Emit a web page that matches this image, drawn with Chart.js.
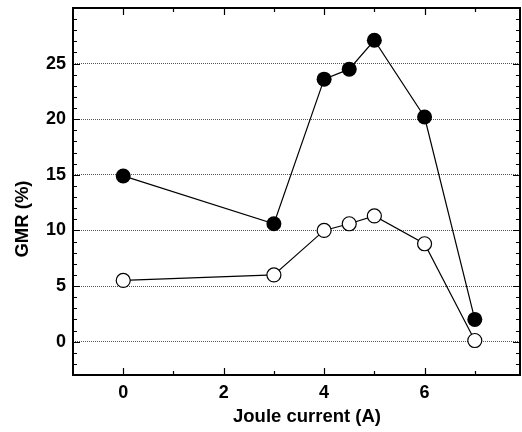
<!DOCTYPE html>
<html>
<head>
<meta charset="utf-8">
<script src="https://cdn.jsdelivr.net/npm/chart.js@4.4.0/dist/chart.umd.min.js"></script>
<style>
    html, body { margin: 0; padding: 0; background: #fff; }
    #wrap { width: 522px; height: 432px; }
</style>
</head>
<body>
<div id="wrap"><canvas id="gmrChart" width="522" height="432"></canvas></div>
<script>
// Joule current (A) for each measurement
const current = [0, 3, 4, 4.5, 5, 6, 7];
// GMR (%) filled symbols and open symbols
const gmrFilled = [14.9, 10.6, 23.6, 24.5, 27.1, 20.2, 2.0];
const gmrOpen = [5.5, 6.0, 10.0, 10.6, 11.3, 8.8, 0.1];

const xMajorTicks = [0, 2, 4, 6];
const xMinorTicks = [1, 3, 5, 7];
const yMajorTicks = [0, 5, 10, 15, 20, 25];
const yMinorTicks = [-2, -1, 1, 2, 3, 4, 6, 7, 8, 9, 11, 12, 13, 14, 16, 17, 18, 19, 21, 22, 23, 24, 26, 27, 28, 29];

const FONT = 'Liberation Sans, Arial, sans-serif';

function toPoints(xs, ys) {
    return xs.map((x, i) => ({ x: x, y: ys[i] }));
}

// frame, inward ticks on all four sides, axis titles
const framePlugin = {
    id: 'frame',
    afterDraw(chart) {
        const ctx = chart.ctx;
        const a = chart.chartArea;
        const xs = chart.scales.x;
        const ys = chart.scales.y;
        ctx.save();
        ctx.strokeStyle = '#000';

        ctx.lineWidth = 1.2;
        ctx.beginPath();
        xMajorTicks.forEach(v => {
            const px = Math.round(xs.getPixelForValue(v)) + 0.5;
            ctx.moveTo(px, a.bottom); ctx.lineTo(px, a.bottom - 7);
            ctx.moveTo(px, a.top); ctx.lineTo(px, a.top + 7);
        });
        xMinorTicks.forEach(v => {
            const px = Math.round(xs.getPixelForValue(v)) + 0.5;
            ctx.moveTo(px, a.bottom); ctx.lineTo(px, a.bottom - 4);
            ctx.moveTo(px, a.top); ctx.lineTo(px, a.top + 4);
        });
        yMajorTicks.forEach(v => {
            const py = Math.round(ys.getPixelForValue(v)) + 0.5;
            ctx.moveTo(a.left, py); ctx.lineTo(a.left + 7, py);
            ctx.moveTo(a.right, py); ctx.lineTo(a.right - 7, py);
        });
        yMinorTicks.forEach(v => {
            const py = Math.round(ys.getPixelForValue(v)) + 0.5;
            ctx.moveTo(a.left, py); ctx.lineTo(a.left + 4, py);
            ctx.moveTo(a.right, py); ctx.lineTo(a.right - 4, py);
        });
        ctx.stroke();

        ctx.lineWidth = 2;
        ctx.strokeRect(a.left, a.top, a.right - a.left, a.bottom - a.top);

        ctx.fillStyle = '#000';
        ctx.font = 'bold 18.5px ' + FONT;
        ctx.textAlign = 'center';
        ctx.textBaseline = 'middle';
        ctx.fillText('Joule current (A)', 307, 417);
        ctx.translate(23, 219);
        ctx.rotate(-Math.PI / 2);
        ctx.fillText('GMR (%)', 0, 0);
        ctx.restore();
    }
};

const ctx = document.getElementById('gmrChart').getContext('2d');
new Chart(ctx, {
    type: 'scatter',
    data: {
        datasets: [
            {
                label: 'filled',
                data: toPoints(current, gmrFilled),
                showLine: true,
                borderColor: '#000',
                borderWidth: 1.2,
                pointRadius: 7.5,
                pointBackgroundColor: '#000',
                pointBorderColor: '#000',
                pointBorderWidth: 0,
                tension: 0
            },
            {
                label: 'open',
                data: toPoints(current, gmrOpen),
                showLine: true,
                borderColor: '#000',
                borderWidth: 1.2,
                pointRadius: 7,
                pointBackgroundColor: '#fff',
                pointBorderColor: '#000',
                pointBorderWidth: 1.2,
                tension: 0
            }
        ]
    },
    options: {
        responsive: false,
        animation: false,
        devicePixelRatio: 1,
        layout: { autoPadding: false, padding: { left: 0, top: 8, right: 2, bottom: 0 } },
        plugins: {
            legend: { display: false },
            tooltip: { enabled: false }
        },
        scales: {
            x: {
                type: 'linear',
                min: -1,
                max: 7.9,
                afterBuildTicks: axis => { axis.ticks = xMajorTicks.map(v => ({ value: v })); },
                afterFit: axis => {
                    axis.height = 57;
                    axis.paddingLeft = 0;
                    axis.paddingRight = 0;
                },
                grid: { display: false, drawTicks: false },
                border: { display: false },
                ticks: {
                    color: '#000',
                    padding: 7,
                    maxRotation: 0,
                    font: { family: FONT, size: 18, weight: 'bold' }
                }
            },
            y: {
                type: 'linear',
                min: -3,
                max: 30,
                afterBuildTicks: axis => { axis.ticks = yMajorTicks.map(v => ({ value: v })); },
                afterFit: axis => {
                    axis.width = 73;
                    axis.paddingTop = 0;
                    axis.paddingBottom = 0;
                },
                grid: {
                    color: '#555',
                    lineWidth: 1,
                    drawTicks: false
                },
                border: { display: false, dash: [1, 1] },
                ticks: {
                    color: '#000',
                    padding: 7,
                    font: { family: FONT, size: 18, weight: 'bold' }
                }
            }
        }
    },
    plugins: [framePlugin]
});
</script>
</body>
</html>
